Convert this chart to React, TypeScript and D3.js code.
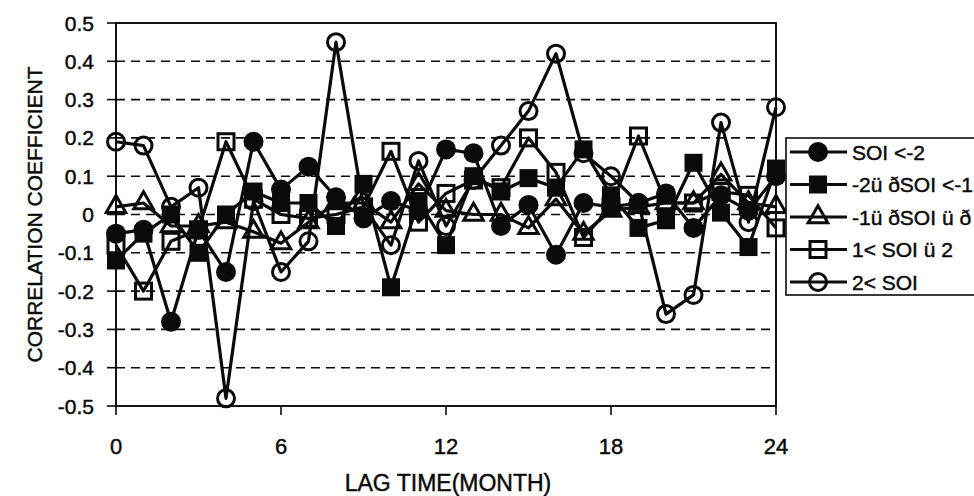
import React, { useRef, useEffect } from 'react';
import * as d3 from 'd3';

// lag (months) and correlation coefficients
const lags = [0, 1, 2, 3, 4, 5, 6, 7, 8, 9, 10, 11, 12, 13, 14, 15, 16, 17, 18, 19, 20, 21, 22, 23, 24];

const soiBelowM2 = [-0.05, -0.04, -0.28, -0.04, -0.15, 0.19, 0.065, 0.125, 0.045, -0.01, 0.035, 0.01, 0.17, 0.16, -0.03, 0.025, -0.105, 0.03, 0.02, 0.03, 0.055, -0.035, 0.05, 0.01, 0.1];
const soiM2toM1 = [-0.12, -0.05, 0.0, -0.1, 0.0, 0.06, 0.03, 0.03, -0.03, 0.08, -0.19, 0.035, -0.08, 0.1, 0.06, 0.095, 0.07, 0.17, 0.05, -0.035, -0.015, 0.135, 0.005, -0.085, 0.12];
const soiM1to1 = [0.02, 0.03, -0.03, -0.03, -0.02, -0.045, -0.075, -0.02, 0.03, 0.03, -0.02, 0.08, 0.01, 0.0, 0.0, -0.035, 0.04, -0.05, 0.01, 0.02, 0.03, 0.03, 0.105, 0.03, 0.02];
const soi1to2 = [-0.08, -0.2, -0.07, -0.04, 0.19, 0.04, 0.0, -0.01, 0.0, 0.02, 0.165, -0.02, 0.055, 0.09, 0.07, 0.2, 0.11, -0.06, 0.02, 0.205, 0.03, 0.03, 0.06, 0.05, -0.035];
const soiAbove2 = [0.19, 0.18, 0.02, 0.07, -0.48, 0.035, -0.15, -0.07, 0.45, 0.02, -0.08, 0.14, -0.03, 0.09, 0.18, 0.27, 0.42, 0.16, 0.1, 0.03, -0.26, -0.21, 0.24, -0.02, 0.28];

const seriesNames = ['SOI <-2', '-2ü ðSOI <-1', '-1ü ðSOI ü ð', '1< SOI ü 2', '2< SOI'];
const markerKinds = ['dot', 'block', 'triangle', 'box', 'ring'];

const yTicks = [0.5, 0.4, 0.3, 0.2, 0.1, 0, -0.1, -0.2, -0.3, -0.4, -0.5];
const xTicks = [0, 6, 12, 18, 24];

const FONT = '"Liberation Sans", Arial, sans-serif';
const INK = '#0a0a0a';

const App: React.FC = () => {
  const svgRef = useRef<SVGSVGElement | null>(null);

  useEffect(() => {
    if (!svgRef.current) return;
    const width = 974;
    const height = 496;
    const left = 116, right = 776, top = 23, bottom = 406;

    const svg = d3.select(svgRef.current).attr('width', width).attr('height', height);
    svg.selectAll('*').remove();

    svg.append('rect').attr('width', width).attr('height', height).attr('fill', 'white');

    const x = d3.scaleLinear().domain([0, 24]).range([left, right]);
    const y = d3.scaleLinear().domain([-0.5, 0.5]).range([bottom, top]);

    // scanned text looks a little heavier than plain Arial
    const inked = (sel: any, size: number) =>
      sel.style('font-family', FONT)
        .style('font-size', `${size}px`)
        .attr('fill', INK)
        .attr('stroke', INK)
        .attr('stroke-width', 0.45);

    // dashed gridlines
    svg.append('g')
      .selectAll('line')
      .data(yTicks.filter(t => t > -0.5 && t < 0.5))
      .enter()
      .append('line')
      .attr('x1', left).attr('x2', right)
      .attr('y1', d => y(d)).attr('y2', d => y(d))
      .attr('stroke', INK)
      .attr('stroke-width', 1.6)
      .attr('stroke-dasharray', '9,6');

    // frame
    svg.append('rect')
      .attr('x', left).attr('y', top)
      .attr('width', right - left).attr('height', bottom - top)
      .attr('fill', 'none').attr('stroke', INK).attr('stroke-width', 1.9);

    // y ticks + labels
    const yAxis = svg.append('g');
    yAxis.selectAll('line')
      .data(yTicks)
      .enter()
      .append('line')
      .attr('x1', left - 9).attr('x2', left)
      .attr('y1', d => y(d)).attr('y2', d => y(d))
      .attr('stroke', INK).attr('stroke-width', 1.6);
    inked(
      yAxis.selectAll('text')
        .data(yTicks)
        .enter()
        .append('text')
        .attr('x', left - 22)
        .attr('y', d => y(d))
        .attr('dy', '0.36em')
        .attr('text-anchor', 'end')
        .text(d => (d === 0 ? '0' : d.toFixed(1))),
      21
    );

    // x ticks + labels
    const xAxis = svg.append('g');
    xAxis.selectAll('line')
      .data(xTicks)
      .enter()
      .append('line')
      .attr('x1', d => x(d)).attr('x2', d => x(d))
      .attr('y1', bottom).attr('y2', bottom + 9)
      .attr('stroke', INK).attr('stroke-width', 1.6);
    inked(
      xAxis.selectAll('text')
        .data(xTicks)
        .enter()
        .append('text')
        .attr('x', d => x(d))
        .attr('y', 454)
        .attr('text-anchor', 'middle')
        .text(d => String(d)),
      22
    );

    // axis titles
    inked(
      svg.append('text')
        .attr('transform', `translate(42,${(top + bottom) / 2}) rotate(-90)`)
        .attr('text-anchor', 'middle')
        .text('CORRELATION COEFFICIENT'),
      21
    );
    inked(
      svg.append('text')
        .attr('x', (left + right) / 2 + 2)
        .attr('y', 491)
        .attr('text-anchor', 'middle')
        .text('LAG TIME(MONTH)'),
      23
    );

    const drawMarker = (g: any, kind: string, cx: number, cy: number) => {
      if (kind === 'dot') {
        g.append('circle').attr('cx', cx).attr('cy', cy).attr('r', 10).attr('fill', INK);
      } else if (kind === 'block') {
        g.append('rect').attr('x', cx - 9).attr('y', cy - 9).attr('width', 18).attr('height', 18).attr('fill', INK);
      } else if (kind === 'triangle') {
        g.append('path')
          .attr('d', d3.symbol().type(d3.symbolTriangle).size(165)())
          .attr('transform', `translate(${cx},${cy})`)
          .attr('fill', 'none').attr('stroke', INK).attr('stroke-width', 3);
      } else if (kind === 'box') {
        g.append('rect').attr('x', cx - 8).attr('y', cy - 8).attr('width', 16).attr('height', 16)
          .attr('fill', 'none').attr('stroke', INK).attr('stroke-width', 3);
      } else {
        g.append('circle').attr('cx', cx).attr('cy', cy).attr('r', 8.5)
          .attr('fill', 'none').attr('stroke', INK).attr('stroke-width', 3);
      }
    };

    const allSeries = [soiBelowM2, soiM2toM1, soiM1to1, soi1to2, soiAbove2];
    const line = d3.line<number>()
      .x((_, i) => x(lags[i]))
      .y(d => y(d));

    allSeries.forEach((values, si) => {
      const g = svg.append('g');
      g.append('path')
        .attr('d', line(values))
        .attr('fill', 'none')
        .attr('stroke', INK)
        .attr('stroke-width', 3.2)
        .attr('stroke-linejoin', 'round');
      values.forEach((v, i) => drawMarker(g, markerKinds[si], x(lags[i]), y(v)));
    });

    // legend (runs off the right edge like the original)
    const legend = svg.append('g');
    legend.append('rect')
      .attr('x', 786).attr('y', 138)
      .attr('width', 230).attr('height', 157)
      .attr('fill', 'white').attr('stroke', INK).attr('stroke-width', 1.6);
    seriesNames.forEach((name, i) => {
      const ly = 152 + i * 32.5;
      legend.append('line')
        .attr('x1', 790).attr('x2', 847)
        .attr('y1', ly).attr('y2', ly)
        .attr('stroke', INK).attr('stroke-width', 3.2);
      drawMarker(legend, markerKinds[i], 818, ly);
      inked(
        legend.append('text')
          .attr('x', 852).attr('y', ly)
          .attr('dy', '0.36em')
          .text(name),
        21
      );
    });
  }, []);

  return <svg ref={svgRef} style={{ position: 'absolute', left: 0, top: 0, display: 'block' }}></svg>;
};

export default App;
